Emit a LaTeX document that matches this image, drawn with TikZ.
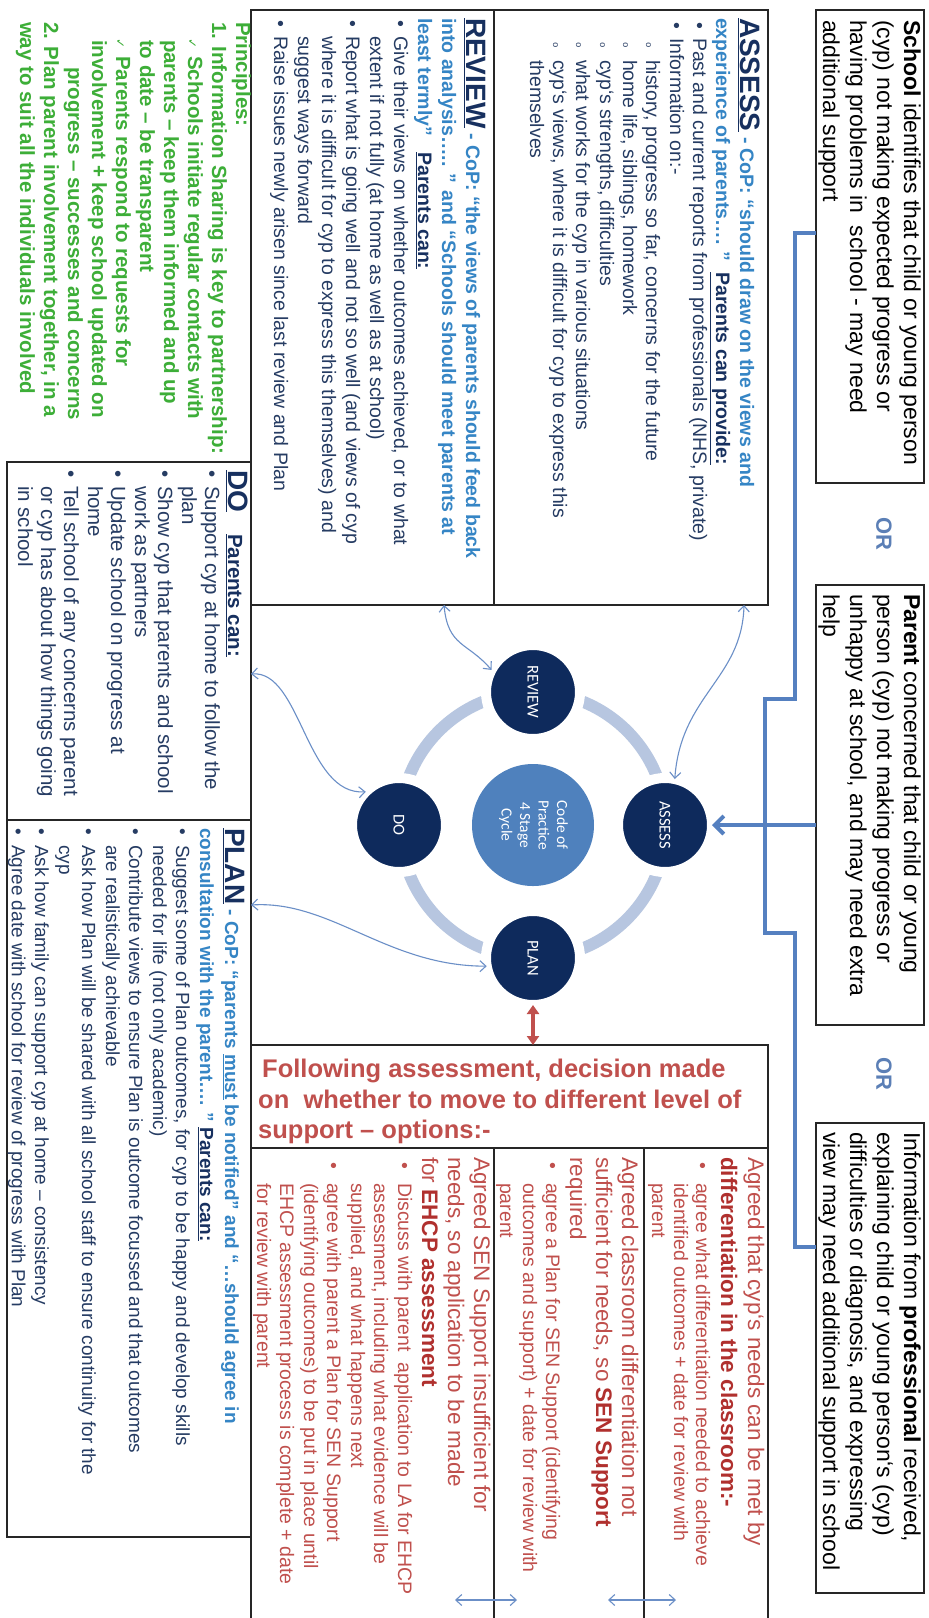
\documentclass[tikz,border=0pt]{standalone}
\usepackage{fontspec}
\setmainfont{Liberation Sans}
\newfontfamily\calfont{Carlito}
\newfontfamily\djv{DejaVu Sans}
\newfontfamily\monof{Liberation Mono}
\usetikzlibrary{arrows.meta,calc}
\definecolor{bodyc}{HTML}{263C63}
\definecolor{navyc}{HTML}{17305F}
\definecolor{copc}{HTML}{3585C5}
\definecolor{redt}{HTML}{C0504D}
\definecolor{redb}{HTML}{B0302E}
\definecolor{grn}{HTML}{3DAE38}
\definecolor{orc}{HTML}{5B7FB6}
\definecolor{brkc}{HTML}{5580C0}
\definecolor{ringc}{HTML}{B7C6E0}
\definecolor{darkc}{HTML}{0E2A5C}
\definecolor{midc}{HTML}{4F81BD}
\definecolor{thinc}{HTML}{6B8FC7}
\newcounter{ln}
\newcommand{\rl}[3]{\stepcounter{ln}\node[rt,cur,anchor=base west] (t\theln) at (#1,#2) {#3};}
\newcommand{\rb}[4]{\stepcounter{ln}\node[rt,cur,anchor=base west] (b\theln) at (#1,#2) {\textbullet};\rl{#1}{#3}{#4}}
\newcommand{\ro}[4]{\stepcounter{ln}\node[rt,cur,anchor=base west] (o\theln) at (#1,#2) {{\monof\small o}};\rl{#1}{#3}{#4}}
\newcommand{\rc}[4]{\stepcounter{ln}\node[rt,cur,anchor=base west] (c\theln) at (#1,#2) {{\djv\fontsize{12}{12}\selectfont ✓}};\rl{#1}{#3}{#4}}
\newcommand{\hd}[1]{\textcolor{navyc}{\fontsize{28}{30}\selectfont\bfseries\underline{#1}}}
\begin{document}
\begin{tikzpicture}[x=1pt,y=-1pt,
 rt/.style={rotate=-90,inner sep=0pt,outer sep=0pt},
 cur/.style={},
 boxst/.style={draw=black!85,line width=1.3pt,inner sep=0pt,outer sep=0pt,anchor=north west},
 stage/.style={circle,fill=darkc,draw=white,line width=10pt,minimum size=94pt,inner sep=0pt,outer sep=0pt,text=white,font=\calfont\fontsize{16.5}{19}\selectfont},
 thinarr/.style={draw=thinc,line width=1.1pt,{Straight Barb[length=6pt,width=11pt]}-{Straight Barb[length=6pt,width=11pt]}},
 bracket/.style={draw=brkc,line width=4pt},
 ]
\fill[white] (0,0) rectangle (929,1618);
\useasboundingbox (0,0) rectangle (929,1618);

% ---------- boxes
\node[boxst,minimum width=108pt,minimum height=473pt] (schoolbox) at (816,10) {};
\node[boxst,minimum width=108pt,minimum height=440pt] (parentbox) at (816,585) {};
\node[boxst,minimum width=108pt,minimum height=470pt] (profbox) at (816,1123) {};
\node[boxst,minimum width=274pt,minimum height=595pt] (assessbox) at (494,10) {};
\node[boxst,minimum width=243pt,minimum height=595pt] (reviewbox) at (251,10) {};
\node[boxst,minimum width=244pt,minimum height=358pt] (dobox) at (7,462) {};
\node[boxst,minimum width=244pt,minimum height=717pt] (planbox) at (7,820) {};
\node[boxst,minimum width=517pt,minimum height=103pt] (followbox) at (251,1045) {};
\node[boxst,minimum width=124pt,minimum height=480pt] (opt1) at (644,1148) {};
\node[boxst,minimum width=150pt,minimum height=480pt] (opt2) at (494,1148) {};
\node[boxst,minimum width=243pt,minimum height=480pt] (opt3) at (251,1148) {};

% ---------- cycle
\draw[ringc,line width=12pt] (533,825) circle[radius=133pt];
\node[circle,fill=midc,minimum size=122pt,inner sep=0pt,outer sep=0pt,text=white,font=\calfont\fontsize{15.5}{18.5}\selectfont] (core) at (533,825) {\rotatebox{-90}{\begin{tabular}{@{}c@{}}Code of\\Practice\\4 Stage\\Cycle\end{tabular}}};
\node[stage] (review) at (533,692) {\rotatebox{-90}{REVIEW}};
\node[stage] (assess) at (665,825) {\rotatebox{-90}{ASSESS}};
\node[stage] (plan) at (533,958) {\rotatebox{-90}{PLAN}};
\node[stage] (do) at (399,825) {\rotatebox{-90}{DO}};

% ---------- bracket and arrows
\draw[bracket,line join=miter] (schoolbox.west |- 0,233) -- (795,233) -- (795,699) -- (765,699) -- (765,933) -- (795,933) -- (795,1247) -- (profbox.west |- 0,1247);
\draw[bracket,-{Straight Barb[length=9pt,width=18pt]}] (parentbox.west |- assess.east) -- (assess.east);
\coordinate (s1) at ([xshift=-24pt]assessbox.south east);
\coordinate (s2) at ([xshift=-50pt]reviewbox.south east);
\coordinate (s3) at (dobox.east |- 0,674);
\coordinate (s4) at (planbox.east |- 0,905);
\draw[thinarr] (s1) .. controls +(-2,74) and +(6,-84) .. (assess.78);
\draw[thinarr] (s2) .. controls +(4,42) and +(-24,-28) .. (review.152);
\draw[thinarr] (s3) .. controls +(50,-4) and +(-60,4) .. (do.135);
\draw[thinarr] (s4) .. controls +(80,-5) and +(-100,0) .. (plan.190);
\draw[redt,line width=3.5pt,{Triangle[length=9pt,width=12pt]}-{Triangle[length=9pt,width=12pt]}] (plan.south) -- (plan.south |- followbox.north);
\coordinate (ba1) at (608,1600);
\coordinate (ba2) at (676,1600);
\coordinate (ba3) at (455,1600);
\coordinate (ba4) at (517,1600);
\draw[thinarr] (ba1) -- (ba2);
\draw[thinarr] (ba3) -- (ba4);

% ---------- OR
\node[rt,font=\bfseries\fontsize{22}{24}\selectfont,text=orc] (or1) at (884,534) {OR};
\node[rt,font=\bfseries\fontsize{22}{24}\selectfont,text=orc] (or2) at (884,1074) {OR};

% ---------- right boxes
\tikzset{cur/.style={font=\fontsize{23}{27}\selectfont,text=black}}
\rl{904}{20}{\textbf{School} identifies that child or young person}
\rl{877}{20}{(cyp) not making expected progress or}
\rl{850}{20}{having problems in\ \ school - may need}
\rl{823}{20}{additional support}
\rl{904}{594}{\textbf{Parent} concerned that child or young}
\rl{877}{594}{person (cyp) not making progress or}
\rl{850}{594}{unhappy at school, and may need extra}
\rl{823}{594}{help}
\rl{904}{1132}{Information from \textbf{professional} received,}
\rl{877}{1132}{explaining child or young person`s (cyp)}
\rl{850}{1132}{difficulties or diagnosis, and expressing}
\rl{823}{1132}{view may need additional support in school}

% ---------- ASSESS
\tikzset{cur/.style={font=\fontsize{19.5}{23}\selectfont,text=bodyc}}
\rl{740}{18}{\hd{ASSESS}\textcolor{copc}{\bfseries\ - CoP: “should draw on the views and}}
\rl{716}{18}{\textcolor{copc}{\bfseries experience of parents…. ”}\ \ \textcolor{navyc}{\bfseries\underline{Parents can provide:}}}
\rb{693}{22}{38}{Past and current reports from professionals (NHS, private)}
\rb{670}{22}{38}{Information on:-}
\ro{646}{42}{60}{history, progress so far, concerns for the future}
\ro{623}{42}{60}{home life, siblings, homework}
\ro{600}{42}{60}{cyp`s strengths, difficulties}
\ro{576}{42}{60}{what works for the cyp in various situations}
\ro{553}{42}{60}{cyp`s views, where it is difficult for cyp to express this}
\rl{530}{60}{themselves}

% ---------- REVIEW
\rl{466}{18}{\hd{REVIEW}\textcolor{copc}{\bfseries\ - CoP: “the views of parents should feed back}}
\rl{442}{18}{\textcolor{copc}{\bfseries into analysis….. ” and “Schools should meet parents at}}
\rl{418}{18}{\textcolor{copc}{\bfseries least termly”}\ \ \ \textcolor{navyc}{\bfseries\underline{Parents can:}}}
\rb{394}{20}{36}{Give their views on whether outcomes achieved, or to what}
\rl{370}{36}{extent if not fully (at home as well as at school)}
\rb{346}{20}{36}{Report what is going well and not so well (and views of cyp}
\rl{322}{36}{where it is difficult for cyp to express this themselves) and}
\rl{298}{36}{suggest ways forward}
\rb{274}{20}{36}{Raise issues newly arisen since last review and Plan}

% ---------- DO
\tikzset{cur/.style={font=\fontsize{20.5}{23}\selectfont,text=bodyc}}
\rl{228}{470}{\hd{DO}\hspace{22pt}\textcolor{navyc}{\bfseries\underline{Parents can:}}}
\rb{205}{470}{486}{Support cyp at home to follow the}
\rl{182}{486}{plan}
\rb{158}{470}{486}{Show cyp that parents and school}
\rl{135}{486}{work as partners}
\rb{111}{470}{486}{Update school on progress at}
\rl{88}{486}{home}
\rb{64}{470}{486}{Tell school of any concerns parent}
\rl{41}{486}{or cyp has about how things going}
\rl{18}{486}{in school}

% ---------- PLAN
\tikzset{cur/.style={font=\fontsize{19}{23}\selectfont,text=bodyc}}
\rl{225}{828}{\hd{PLAN}\textcolor{copc}{\bfseries\ - CoP: “parents \underline{must} be notified” and “…should agree in}}
\rl{200}{828}{\textcolor{copc}{\bfseries consultation with the parent…. ”}\ \textcolor{navyc}{\bfseries\underline{Parents can:}}}
\rb{176}{828}{845}{Suggest some of Plan outcomes, for cyp to be happy and develop skills}
\rl{153}{845}{needed for life (not only academic)}
\rb{129}{828}{845}{Contribute views to ensure Plan is outcome focussed and that outcomes}
\rl{106}{845}{are realistically achievable}
\rb{82}{828}{845}{Ask how Plan will be shared with all school staff to ensure continuity for the}
\rl{59}{845}{cyp}
\rb{35}{828}{845}{Ask how family can support cyp at home – consistency}
\rb{12}{828}{845}{Agree date with school for review of progress with Plan}

% ---------- Principles
\tikzset{cur/.style={font=\bfseries\fontsize{20.5}{24}\selectfont,text=grn}}
\rl{236}{22}{Principles:}
\rl{212}{22}{1. Information Sharing is key to partnership:}
\rc{188}{38}{56}{Schools initiate regular contacts with}
\rl{164}{40}{parents – keep them informed and up}
\rl{140}{40}{to date – be transparent}
\rc{116}{38}{56}{Parents respond to requests for}
\rl{92}{40}{involvement + keep school updated on}
\rl{68}{67}{progress – successes and concerns}
\rl{44}{22}{2. Plan parent involvement together, in a}
\rl{20}{22}{way to suit all the individuals involved}

% ---------- Following
\node[font=\bfseries\fontsize{25.5}{30}\selectfont,text=redt,anchor=base west,inner sep=0pt] (f1) at (262,1077) {Following assessment, decision made};
\node[font=\bfseries\fontsize{25.5}{30}\selectfont,text=redt,anchor=base west,inner sep=0pt] (f2) at (258,1108) {on\ \ whether to move to different level of};
\node[font=\bfseries\fontsize{25.5}{30}\selectfont,text=redt,anchor=base west,inner sep=0pt] (f3) at (258,1138) {support – options:-};

% ---------- options
\tikzset{cur/.style={font=\fontsize{22.5}{26}\selectfont,text=redt}}
\rl{748}{1157}{Agreed that cyp`s needs can be met by}
\rl{721}{1157}{\textbf{\color{redb}differentiation in the classroom:-}}
\rl{622}{1157}{Agreed classroom differentiation not}
\rl{596}{1157}{sufficient for needs, so \textbf{\color{redb}SEN Support}}
\rl{570}{1157}{required}
\rl{474}{1157}{Agreed SEN Support insufficient for}
\rl{448}{1157}{needs, so application to be made}
\rl{422}{1157}{for \textbf{\color{redb}EHCP assessment}}
\tikzset{cur/.style={font=\fontsize{19.5}{23}\selectfont,text=redt}}
\rb{696}{1162}{1183}{agree what differentiation needed to achieve}
\rl{674}{1183}{identified outcomes + date for review with}
\rl{652}{1183}{parent}
\rb{546}{1162}{1183}{agree a Plan for SEN Support (identifying}
\rl{523}{1183}{outcomes and support) + date for review with}
\rl{500}{1183}{parent}
\rb{398}{1162}{1183}{Discuss with parent\ \ application to LA for EHCP}
\rl{374}{1183}{assessment, including what evidence will be}
\rl{351}{1183}{supplied, and what happens next}
\rb{327}{1162}{1183}{agree with parent a Plan for SEN Support}
\rl{304}{1183}{(identifying outcomes) to be put in place until}
\rl{280}{1183}{EHCP assessment process is complete + date}
\rl{257}{1183}{for review with parent}
\end{tikzpicture}
\end{document}
